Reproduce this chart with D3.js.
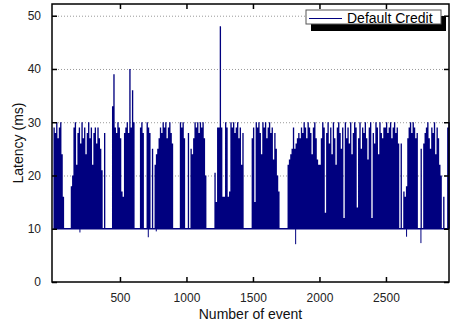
<!DOCTYPE html>
<html>
<head>
<meta charset="utf-8">
<script src="https://cdn.jsdelivr.net/npm/d3@7"></script>
<style>
  body { margin: 0; background: #fff; }
  svg { display: block; font-family: "Liberation Sans", Arial, sans-serif; }
</style>
</head>
<body>
<div id="chart-container"></div>
<script>
// latency samples, one every 10 events (0 .. 2970)
const EVENT_STEP = 10;
const latency = [
  29, 28, 30, 27, 29, 30, 24, 16, 10, 10, 10, 10, 10,
  18, 20, 29, 30, 22, 28, 29, 26, 30, 27, 29, 24, 28, 30, 27, 29, 22, 28, 29, 26, 29, 27, 25, 21,
  10, 28, 10, 10, 10, 10, 10,
  33, 39, 29, 28, 30, 29, 27, 17, 16, 28, 29, 30, 28, 40, 29, 36, 30,
  10, 10, 10, 10, 29, 30, 28, 10, 10, 30, 29, 28, 10, 25, 10,
  22, 24, 25, 27, 29, 28, 30, 29, 30, 27, 29, 30, 28, 26,
  10, 10, 10, 10, 10, 30, 29, 30, 27, 10, 10, 28, 10,
  25, 24, 27, 30, 29, 30, 28, 30, 29, 30, 27, 20,
  10, 10, 10, 10, 10, 10, 20.5, 15, 29, 29, 48, 29, 16, 16, 30, 29, 16, 17,
  30, 29, 30, 28, 29, 30, 27, 29, 22, 28,
  10, 10, 10, 10, 10, 10, 27, 29, 15,
  30, 29, 30, 28, 24, 30, 29, 30, 27, 29, 30, 28, 29, 23, 28, 25, 20, 17,
  10, 10, 10, 10, 10, 10, 22, 23, 24, 25, 29,
  25, 26, 27, 28, 27, 29, 28, 30, 29, 27, 30, 29, 28, 24, 29, 30, 27, 23, 22,
  22, 27, 30, 29, 13, 28, 30, 26, 29, 24, 30, 27, 22, 29, 30, 28, 25, 29, 12, 30,
  27, 29, 26, 30, 24, 28, 30, 29, 14, 27, 30, 25, 29, 28, 30, 27, 23, 29, 30, 12,
  28, 26, 30, 29, 24, 30, 28, 27, 29,
  29, 30, 28, 29, 30, 27, 29, 30, 28, 29, 26, 10, 26, 10, 17, 16, 18,
  27, 29, 30, 28, 30, 29, 27, 28, 10, 10, 25, 10,
  26, 28, 29, 30, 27, 25, 29, 28, 30, 24, 29, 27, 22, 20, 10, 16, 10, 10, 29, 30
];
// events that dropped below the 10 ms floor
const lowEvents = [199, 713, 773, 1821, 2655, 2763];
const lowValues = [9.3, 8.4, 9.5, 7.1, 8.5, 7.3];
const BASE = 10;

const xTicks = [500, 1000, 1500, 2000, 2500];
const yTicks = [0, 10, 20, 30, 40, 50];
const gridTicks = [20, 30, 40, 50];
const seriesName = "Default Credit";

function drawChart() {
  const W = 450, H = 326;
  const left = 52, right = 449, top = 4, bottom = 282;
  const navy = "#00007f";

  const svg = d3.select("#chart-container").append("svg")
    .attr("width", W).attr("height", H);

  const x = d3.scaleLinear().domain([-11, 2974]).range([left, right]);
  const y = d3.scaleLinear().domain([0, 52.2]).range([bottom, top]);

  // dotted gridlines
  svg.append("g").selectAll("line").data(gridTicks).enter().append("line")
    .attr("x1", left).attr("x2", right)
    .attr("y1", d => y(d) + 0.5).attr("y2", d => y(d) + 0.5)
    .attr("stroke", "#9a9a9a").attr("stroke-width", 1)
    .attr("stroke-dasharray", "1,2");

  const samples = latency.map((v, i) => ({ ev: i * EVENT_STEP, v }));
  samples.push({ ev: samples.length * EVENT_STEP, v: latency[latency.length - 1] });

  // spikes as one stepped area so dense runs read as solid
  const area = d3.area()
    .curve(d3.curveStepAfter)
    .x(d => x(d.ev))
    .y0(y(BASE))
    .y1(d => y(Math.max(d.v, BASE)));
  svg.append("path").datum(samples)
    .attr("d", area).attr("fill", navy);

  // dips below the floor
  svg.append("g").selectAll("line").data(lowEvents).enter().append("line")
    .attr("x1", d => x(d)).attr("x2", d => x(d))
    .attr("y1", y(BASE)).attr("y2", (d, i) => y(lowValues[i]))
    .attr("stroke", navy).attr("stroke-width", 1);

  // floor line
  const line = d3.line().x(d => x(d.ev)).y(() => y(BASE));
  svg.append("path").datum([{ ev: 0 }, { ev: 2974 }])
    .attr("d", line).attr("fill", "none")
    .attr("stroke", navy).attr("stroke-width", 1.5);

  // axes (ticks inward on all four sides)
  const font = "12px";
  const fmt = d3.format("d");
  svg.append("g").attr("transform", `translate(0,${bottom})`)
    .call(d3.axisBottom(x).tickValues(xTicks).tickFormat(fmt).tickSizeInner(-5).tickSizeOuter(0).tickPadding(11))
    .call(g => g.select(".domain").remove())
    .call(g => g.selectAll("line").attr("stroke-width", 1.5))
    .call(g => g.selectAll("text").attr("font-size", font).attr("fill", "#222").attr("font-family", null));
  svg.append("g").attr("transform", `translate(0,${top})`)
    .call(d3.axisTop(x).tickValues(xTicks).tickSizeInner(-5).tickSizeOuter(0).tickFormat(""))
    .call(g => g.select(".domain").remove())
    .call(g => g.selectAll("line").attr("stroke-width", 1.5));
  svg.append("g").attr("transform", `translate(${left},0)`)
    .call(d3.axisLeft(y).tickValues(yTicks).tickFormat(fmt).tickSizeInner(-5).tickSizeOuter(0).tickPadding(11))
    .call(g => g.select(".domain").remove())
    .call(g => g.selectAll("line").attr("stroke-width", 1.5))
    .call(g => g.selectAll("text").attr("font-size", font).attr("fill", "#222").attr("font-family", null));
  svg.append("g").attr("transform", `translate(${right},0)`)
    .call(d3.axisRight(y).tickValues(yTicks).tickSizeInner(-5).tickSizeOuter(0).tickFormat(""))
    .call(g => g.select(".domain").remove())
    .call(g => g.selectAll("line").attr("stroke-width", 1.5));

  // frame
  svg.append("rect")
    .attr("x", left).attr("y", top)
    .attr("width", right - left).attr("height", bottom - top)
    .attr("fill", "none").attr("stroke", "#000").attr("stroke-width", 1.5);

  // axis titles
  svg.append("text")
    .attr("x", (left + right) / 2).attr("y", 319)
    .attr("text-anchor", "middle").attr("font-size", "14px").attr("fill", "#111")
    .text("Number of event");
  svg.append("text")
    .attr("transform", `translate(23,${(top + bottom) / 2}) rotate(-90)`)
    .attr("text-anchor", "middle").attr("font-size", "14px").attr("fill", "#111")
    .text("Latency (ms)");

  // legend with drop shadow
  const lg = svg.append("g");
  lg.append("rect").attr("x", 311).attr("y", 16).attr("width", 135).attr("height", 15).attr("fill", "#000");
  lg.append("rect").attr("x", 306).attr("y", 10).attr("width", 135).attr("height", 14)
    .attr("fill", "#fff").attr("stroke", "#555").attr("stroke-width", 1);
  lg.append("line").attr("x1", 309).attr("x2", 342).attr("y1", 18.5).attr("y2", 18.5)
    .attr("stroke", navy).attr("stroke-width", 1);
  lg.append("text").attr("x", 347).attr("y", 23).attr("font-size", "14px").attr("fill", "#000")
    .text(seriesName);
}

window.onload = drawChart;
</script>
</body>
</html>
